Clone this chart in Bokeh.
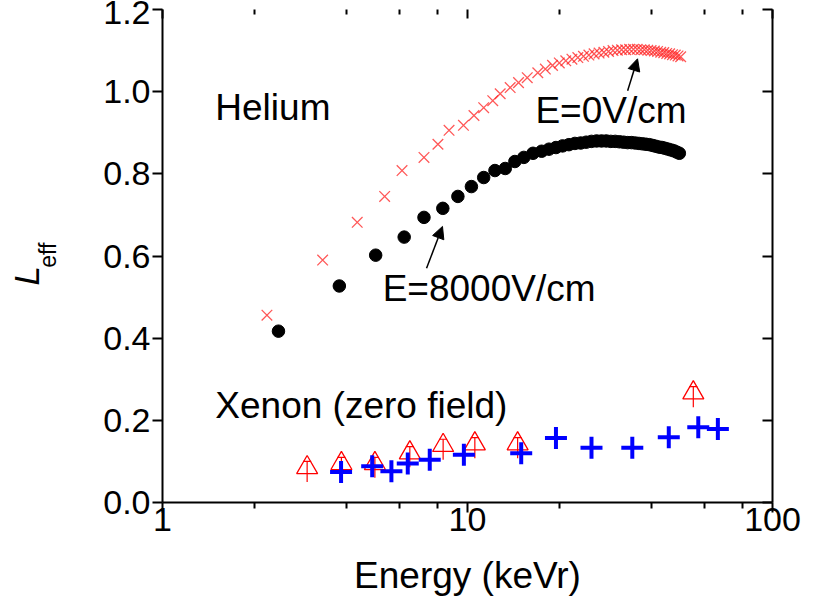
import math
from bokeh.plotting import figure
from bokeh.layouts import row
from bokeh.models import (FixedTicker, PrintfTickFormatter, LinearAxis, LogAxis,
                          Label, Arrow, NormalHead, Range1d, CustomJSTickFormatter)
from bokeh.embed import file_html
from bokeh.resources import INLINE

# ---- data ----
# Helium, E = 0 V/cm (red x)
he0_e = [2.2, 3.35, 4.35, 5.35, 6.1, 7.2, 8.0, 8.7, 9.7, 10.5, 11.3, 12.1, 12.8, 13.8,
         14.7, 15.7, 17.0, 18.0, 19.0, 20.0, 21.0, 22.0, 23.0, 24.0, 25.0, 26.0, 27.0,
         28.0, 29.0, 30.0, 31.0, 32.0, 33.0, 34.0, 35.0, 36.0, 37.0, 38.0, 39.0, 40.0,
         41.0, 42.0, 43.0, 44.0, 45.0, 46.0, 47.0, 48.0, 49.0, 50.0]
he0_l = [0.456, 0.590, 0.682, 0.745, 0.808, 0.840, 0.872, 0.906, 0.918, 0.942, 0.961,
         0.978, 0.995, 1.010, 1.022, 1.034, 1.046, 1.055, 1.064, 1.070, 1.075, 1.079,
         1.083, 1.086, 1.089, 1.092, 1.094, 1.096, 1.098, 1.100, 1.101, 1.102, 1.102,
         1.103, 1.103, 1.103, 1.102, 1.102, 1.101, 1.100, 1.099, 1.098, 1.096, 1.095,
         1.093, 1.092, 1.090, 1.089, 1.087, 1.085]

# Helium, E = 8000 V/cm (black dots)
he8_e = [2.4, 3.8, 5.0, 6.2, 7.2, 8.3, 9.3, 10.3, 11.3, 12.3, 13.3, 14.3, 15.3, 16.4,
         17.5, 18.5, 19.5, 20.5, 21.5, 22.5, 23.5, 24.5, 25.5, 26.5, 27.5, 28.5, 29.5,
         30.5, 31.5, 32.5, 33.5, 34.5, 35.5, 36.5, 37.5, 38.5, 39.5, 40.5, 41.5, 42.5,
         43.5, 44.5, 45.5, 46.5, 47.5, 48.5, 49.5]
he8_l = [0.417, 0.527, 0.602, 0.646, 0.694, 0.716, 0.745, 0.769, 0.791, 0.808, 0.813,
         0.830, 0.840, 0.850, 0.855, 0.860, 0.864, 0.868, 0.871, 0.874, 0.875, 0.877,
         0.879, 0.880, 0.880, 0.880, 0.879, 0.879, 0.878, 0.877, 0.876, 0.876, 0.875,
         0.874, 0.873, 0.872, 0.871, 0.869, 0.867, 0.865, 0.864, 0.862, 0.860, 0.858,
         0.856, 0.853, 0.850]

# Xenon, zero field (blue +)
xe_e = [3.85, 4.87, 5.63, 6.37, 7.52, 9.73, 15.0, 19.5, 25.5, 34.7, 45.7, 57.1, 66.2]
xe_l = [0.074, 0.088, 0.076, 0.095, 0.104, 0.116, 0.120, 0.157, 0.133, 0.133, 0.159,
        0.183, 0.179]

# Xenon, zero field (red open triangles with error bars)
tri_e = [2.98, 3.86, 4.97, 6.47, 8.32, 10.57, 14.6, 55.0]
tri_l = [0.085, 0.095, 0.095, 0.121, 0.139, 0.143, 0.143, 0.267]
tri_err_hi = [0.015, 0.015, 0.015, 0.015, 0.015, 0.015, 0.015, 0.015]
tri_err_lo = [0.035, 0.035, 0.035, 0.035, 0.035, 0.035, 0.035, 0.035]

x_major = [1, 10, 100]
x_minor = [2, 4, 6, 8, 20, 40, 60, 80]
y_major = [0.0, 0.2, 0.4, 0.6, 0.8, 1.0, 1.2]

FONT = "Liberation Sans"
H = 598
LBL_W = 70

p = figure(width=810 - LBL_W, height=H, x_axis_type="log",
           x_range=Range1d(1, 100), y_range=Range1d(0, 1.2),
           output_backend="svg", toolbar_location=None,
           min_border_left=162 - LBL_W, min_border_right=38, min_border_top=9,
           min_border_bottom=95)
p.outline_line_color = None
p.grid.visible = False
p.background_fill_color = "white"
p.border_fill_color = "white"

blank = CustomJSTickFormatter(code="return ''")

# bottom axis
xa = p.xaxis[0]
xa.ticker = FixedTicker(ticks=x_major, minor_ticks=x_minor)
xa.formatter = PrintfTickFormatter(format="%d")
xa.axis_label = "Energy (keVr)"
xa.axis_label_text_font = FONT
xa.axis_label_text_font_style = "normal"
xa.axis_label_text_font_size = "37px"
xa.axis_label_text_color = "black"
xa.axis_label_standoff = 21
xa.major_label_text_font = FONT
xa.major_label_text_font_size = "34px"
xa.major_label_text_color = "black"
xa.major_label_standoff = -5
xa.axis_line_width = 2
xa.major_tick_line_width = 2
xa.minor_tick_line_width = 2
xa.major_tick_in = 0
xa.major_tick_out = 10
xa.minor_tick_in = 0
xa.minor_tick_out = 6

# left axis
ya = p.yaxis[0]
ya.ticker = FixedTicker(ticks=y_major, minor_ticks=[])
ya.formatter = PrintfTickFormatter(format="%.1f")
ya.major_label_text_font = FONT
ya.major_label_text_font_size = "34px"
ya.major_label_text_color = "black"
ya.major_label_standoff = 2
ya.axis_line_width = 2
ya.major_tick_line_width = 2
ya.major_tick_in = 0
ya.major_tick_out = 10
ya.minor_tick_line_color = None

# right axis (ticks inward, no labels)
ra = LinearAxis(ticker=FixedTicker(ticks=y_major, minor_ticks=[]), formatter=blank)
ra.major_label_standoff = 0
ra.axis_line_width = 2
ra.major_tick_line_width = 2
ra.major_tick_in = 10
ra.major_tick_out = 0
ra.minor_tick_line_color = None
p.add_layout(ra, "right")

# top axis (ticks inward, no line, no labels)
ta = LogAxis(ticker=FixedTicker(ticks=x_major, minor_ticks=x_minor), formatter=blank)
ta.major_label_standoff = 0
ta.axis_line_color = None
ta.major_tick_line_width = 2
ta.minor_tick_line_width = 2
ta.major_tick_in = 9
ta.major_tick_out = 0
ta.minor_tick_in = 5
ta.minor_tick_out = 0
p.add_layout(ta, "above")

# ---- data glyphs ----
p.scatter(he0_e, he0_l, marker="x", size=15, line_color="#ff2020", line_width=1.3,
          line_alpha=0.75)
p.scatter(he8_e, he8_l, marker="circle", size=12.5, fill_color="black",
          line_color="black")

tri_top = [l + h for l, h in zip(tri_l, tri_err_hi)]
tri_bot = [l - d for l, d in zip(tri_l, tri_err_lo)]
p.segment(x0=tri_e, y0=tri_top, x1=tri_e, y1=tri_bot, line_color="red", line_width=1.2)
p.scatter(tri_e, tri_top, marker="dash", size=8, line_color="red", line_width=1.2)
p.scatter(tri_e, tri_l, marker="triangle", size=21, fill_color=None,
          line_color="red", line_width=1.3)

p.scatter(xe_e, xe_l, marker="cross", size=22, line_color="#0000ff", line_width=4)

# ---- annotations ----
def txt(x, y, s, size="37px"):
    p.add_layout(Label(x=x, y=y, text=s, text_font=FONT, text_font_size=size,
                       text_color="black", text_align="left",
                       text_baseline="middle"))

txt(1.49, 0.961, "Helium")
txt(16.7, 0.954, "E=0V/cm")
txt(5.27, 0.522, "E=8000V/cm")
txt(1.49, 0.235, "Xenon (zero field)")

p.add_layout(Arrow(end=NormalHead(size=12, fill_color="black", line_color="black"),
                   x_start=33.5, y_start=1.002, x_end=36.1, y_end=1.080,
                   line_width=1.5, line_color="black"))
p.add_layout(Arrow(end=NormalHead(size=12, fill_color="black", line_color="black"),
                   x_start=7.34, y_start=0.570, x_end=8.28, y_end=0.672,
                   line_width=1.5, line_color="black"))

# ---- y-axis title (italic L with subscript "eff") in a narrow side panel ----
q = figure(width=LBL_W, height=H, x_range=Range1d(0, LBL_W), y_range=Range1d(0, H),
           output_backend="svg", toolbar_location=None,
           x_axis_location=None, y_axis_location=None,
           min_border=0, min_border_left=0, min_border_right=0,
           min_border_top=0, min_border_bottom=0)
q.outline_line_color = None
q.grid.visible = False
q.border_fill_color = "white"
q.add_layout(Label(x=26, y=H - 323, text="L", angle=math.pi / 2,
                   text_font=FONT, text_font_style="italic", text_color="black",
                   text_font_size="35px", text_align="center",
                   text_baseline="middle"))
q.add_layout(Label(x=47, y=H - 298, text="eff", angle=math.pi / 2,
                   text_font=FONT, text_font_size="23px", text_color="black",
                   text_align="center", text_baseline="middle"))

layout = row(q, p, spacing=0)
open("out.html", "w").write(file_html(layout, INLINE))
